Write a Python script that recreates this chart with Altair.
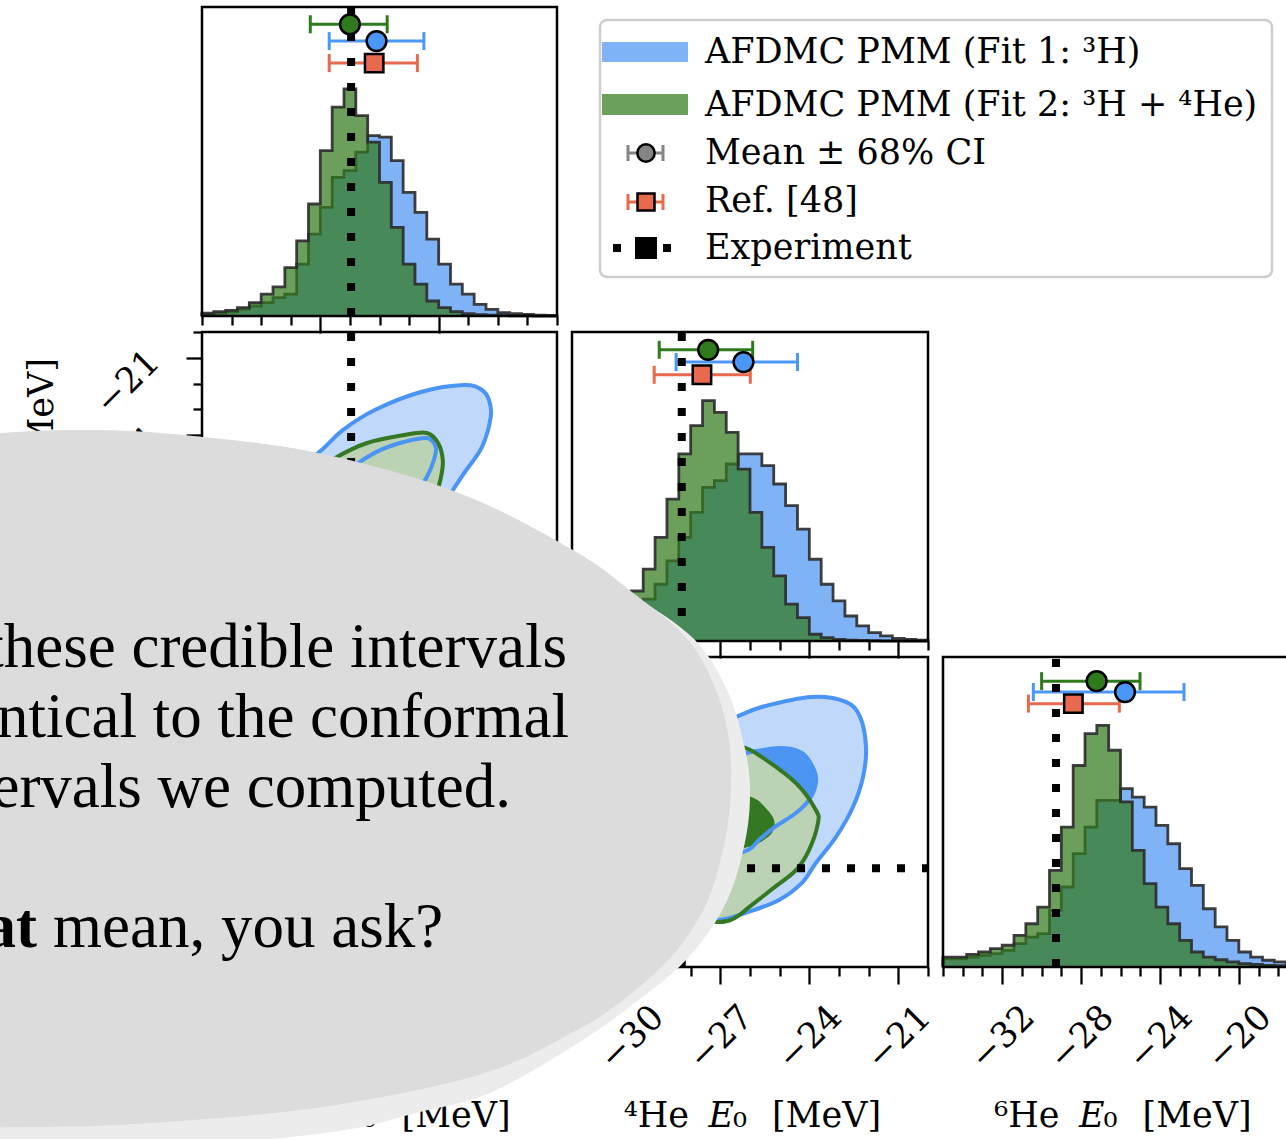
import altair as alt
import numpy as np
import pandas as pd

W, H = 1286, 1139
SERIF = "DejaVu Serif"
SLIDE_FONT = "Liberation Serif"

# ---------------------------------------------------------------- parameters
PARAMS = ["³H", "⁴He", "⁶He"]
DOMAIN = [(-11.0, -5.0), (-32.0, -20.0), (-35.0, -17.0)]
MAJOR_TICKS = [[-9, -7], [-30, -27, -24, -21], [-32, -28, -24, -20]]
MINOR_STEP = [0.5, 1.0, 1.0]
EXPERIMENT = [-8.48, -28.30, -29.27]

# ------------------------------------------------- 1D marginals (normalised)
BIN_START = [-11.0, -32.0, -35.0]
BIN_WIDTH = [0.2, 0.4, 0.6]
FIT1_HIST = [
    [.007, .012, .018, .029, .044, .059, .081, .096, .228, .360, .478, .610, .640, .721, .794,
     .787, .684, .544, .456, .338, .228, .140, .096, .051, .029, .015, .010, .007, .004, .003],
    [.004, .007, .011, .017, .035, .111, .174, .236, .333, .431, .535, .639, .667, .736, .778,
     .778, .729, .653, .563, .465, .340, .236, .167, .104, .063, .035, .021, .011, .007, .004],
    [.034, .034, .041, .048, .055, .069, .097, .124, .138, .234, .331, .469, .579, .690, .690,
     .738, .703, .662, .586, .510, .407, .338, .241, .166, .110, .062, .041, .028, .021, .014],
]
FIT2_HIST = [
    [.012, .019, .025, .037, .059, .096, .128, .213, .331, .493, .728, .919, 1.00, .882, .765,
     .588, .390, .228, .140, .066, .037, .019, .010, .006, .004, .003, .001, .001, .000, .000],
    [.007, .011, .021, .042, .111, .208, .299, .431, .590, .778, .896, 1.00, .951, .868, .715,
     .535, .389, .271, .153, .097, .028, .014, .007, .004, .003, .001, .000, .000, .000, .000],
    [.041, .041, .052, .062, .076, .090, .131, .179, .248, .400, .579, .834, .966, 1.00, .897,
     .683, .483, .345, .248, .179, .110, .062, .041, .030, .021, .014, .011, .007, .006, .004],
]
HIST_TOP = [1.360, 1.285, 1.283]

# ------------------------------------------ mean +/- 68% CI and reference values
SUMMARY = {
    "fit2": {"mean": [-8.50, -27.41, -27.21], "lo": [-9.17, -29.06, -30.00],
             "hi": [-7.87, -25.91, -25.01], "level": [1.284, 1.211, 1.183]},
    "fit1": {"mean": [-8.05, -26.22, -25.77], "lo": [-8.85, -28.49, -30.42],
             "hi": [-7.25, -24.40, -22.78], "level": [1.210, 1.160, 1.138]},
    "ref": {"mean": [-8.09, -27.62, -28.39], "lo": [-8.85, -29.23, -30.67],
            "hi": [-7.36, -25.99, -26.06], "level": [1.113, 1.107, 1.090]},
}

# ------------------------------------------ 2D credible regions (68% / 95%)
CONTOURS = {
    (1, 0): {
        "fit1_95": [(-9.04, -24.70), (-8.62, -23.81), (-8.08, -23.03), (-7.30, -22.33), (-6.57, -22.06),
                    (-6.27, -22.25), (-6.15, -22.64), (-6.12, -23.30), (-6.27, -24.47), (-6.57, -25.48),
                    (-6.78, -26.21), (-7.32, -28.08), (-7.99, -30.02), (-8.84, -31.18), (-9.68, -31.57),
                    (-10.36, -30.79), (-10.53, -28.85), (-10.19, -26.91), (-9.60, -25.55)],
        "fit1_68": [(-8.36, -25.09), (-7.98, -24.58), (-7.59, -24.27), (-7.20, -24.12), (-7.05, -24.47),
                    (-7.08, -24.97), (-7.20, -25.63), (-7.35, -26.14), (-7.65, -27.30), (-8.16, -28.46),
                    (-8.67, -29.05), (-9.09, -28.85), (-9.26, -27.69), (-9.01, -26.52), (-8.67, -25.67)],
        "fit2_95": [(-8.75, -24.89), (-8.21, -24.31), (-7.59, -24.00), (-7.20, -23.92), (-7.01, -24.31),
                    (-6.93, -24.97), (-6.96, -25.63), (-7.05, -26.33), (-7.32, -27.69), (-7.82, -29.24),
                    (-8.50, -30.21), (-9.18, -30.41), (-9.60, -29.63), (-9.68, -28.08), (-9.43, -26.52),
                    (-9.09, -25.44)],
        "fit2_68": [(-8.84, -27.30), (-8.33, -26.72), (-7.91, -26.72), (-7.82, -27.49), (-8.08, -28.46),
                    (-8.58, -29.05), (-8.92, -28.66)],
    },
    (2, 1): {
        "fit1_95": [(-26.57, -20.54), (-25.60, -19.90), (-23.91, -19.32), (-22.77, -19.61), (-22.29, -20.48),
                    (-22.09, -22.23), (-22.19, -23.97), (-22.53, -25.71), (-23.10, -27.45), (-23.78, -28.96),
                    (-24.25, -30.12), (-25.02, -31.11), (-26.07, -31.81), (-27.08, -32.27), (-28.36, -31.98),
                    (-29.71, -31.11), (-30.72, -29.37), (-31.06, -27.04), (-30.55, -24.72), (-29.37, -22.69),
                    (-28.02, -21.24)],
        "fit1_68": [(-26.10, -22.57), (-25.02, -22.28), (-24.25, -22.57), (-23.84, -23.56), (-23.78, -24.32),
                    (-24.01, -25.30), (-24.45, -26.06), (-25.16, -26.87), (-25.70, -27.62), (-26.07, -28.21),
                    (-27.01, -28.50), (-28.02, -27.62), (-28.53, -25.88), (-28.19, -24.14), (-27.35, -22.98)],
        "fit2_95": [(-26.24, -22.23), (-25.60, -22.81), (-24.45, -24.32), (-23.78, -25.88), (-23.71, -26.64),
                    (-24.01, -28.21), (-24.45, -29.37), (-25.16, -30.35), (-26.03, -31.52), (-26.51, -32.15),
                    (-27.08, -32.39), (-28.36, -31.98), (-29.71, -30.82), (-30.55, -28.79), (-30.55, -26.17),
                    (-29.71, -24.14), (-28.36, -22.69), (-27.18, -22.11)],
        "fit2_68": [(-25.87, -25.19), (-25.50, -25.71), (-25.19, -26.46), (-25.26, -27.22), (-25.70, -27.80),
                    (-26.07, -28.03), (-26.84, -28.21), (-27.52, -27.33), (-27.69, -25.88), (-27.18, -25.01),
                    (-26.51, -24.90)],
    },
}

# ------------------------------------------------------------------- styling
COL_PX = [(202, 557), (572, 928), (943, 1298)]   # left, right of each column
ROW_PX = [(7, 316), (332, 641), (657, 967)]      # top, bottom of each row

BLUE_HIST, GREEN_HIST, EDGE = "#7fb3f5", "#33781d", "#2b2b2b"
BLUE_LINE, BLUE_LIGHT, BLUE_MID = "#4a94f5", "#c0d8fa", "#4d95f2"
GREEN_LINE, GREEN_LIGHT = "#347823", "#bbd2b4"
MARK_COLOR = {"fit1": "#4a97f7", "fit2": "#2f7a1c", "ref": "#e8694d"}
MARK_SHAPE = {"fit1": "circle", "fit2": "circle", "ref": "square"}
MARK_SIZE = {"fit1": 390, "fit2": 390, "ref": 340}
TICK_FONT = 35


def x_scale(c):
    return alt.Scale(domain=list(DOMAIN[c]), range=list(COL_PX[c]), nice=False, zero=False)


def y_scale(r):
    top, bottom = ROW_PX[r]
    return alt.Scale(domain=list(DOMAIN[r]), range=[bottom, top], nice=False, zero=False)


def h_scale(d):
    top, bottom = ROW_PX[d]
    return alt.Scale(domain=[0, HIST_TOP[d]], range=[bottom, top], nice=False, zero=False)


def minor_ticks(p):
    vals = np.arange(DOMAIN[p][0], DOMAIN[p][1] + 1e-9, MINOR_STEP[p])
    return [float(v) for v in vals if all(abs(v - m) > 1e-9 for m in MAJOR_TICKS[p])]


def x_axis(c, r, major, labels=False):
    base = dict(orient="bottom", offset=ROW_PX[r][1] - H, domain=False, grid=False, title=None,
                tickColor="black", tickWidth=2.3, zindex=0)
    if not major:
        return alt.Axis(values=minor_ticks(c), tickSize=9, labels=False, **base)
    return alt.Axis(values=MAJOR_TICKS[c], tickSize=17, labels=labels, format="d",
                    labelAngle=315, labelAlign="center", labelBaseline="middle", labelPadding=53,
                    labelFont=SERIF, labelFontSize=TICK_FONT, labelColor="black",
                    labelFlush=False, labelOverlap=False, **base)


def y_axis(r, c, major, labels=False):
    base = dict(orient="left", offset=-COL_PX[c][0], domain=False, grid=False, title=None,
                tickColor="black", tickWidth=2.3, zindex=0)
    if not major:
        return alt.Axis(values=minor_ticks(r), tickSize=9, labels=False, **base)
    return alt.Axis(values=MAJOR_TICKS[r], tickSize=16, labels=labels, format="d",
                    labelAngle=315, labelAlign="center", labelBaseline="middle", labelPadding=59,
                    labelOffset=24, labelFont=SERIF, labelFontSize=TICK_FONT, labelColor="black",
                    labelFlush=False, labelOverlap=False, **base)


def frame(xs, ys, xlo, xhi, ylo, yhi, major_axes, minor_axes):
    df = pd.DataFrame({"x0": [xlo], "x1": [xhi], "y0": [ylo], "y1": [yhi]})
    minor = alt.Chart(df).mark_rect(opacity=0).encode(
        x=alt.X("x0:Q", scale=xs, axis=minor_axes[0]), x2="x1:Q",
        y=alt.Y("y0:Q", scale=ys, axis=minor_axes[1]), y2="y1:Q")
    box = alt.Chart(df).mark_rect(fill="transparent", stroke="black", strokeWidth=2.5).encode(
        x=alt.X("x0:Q", scale=xs, axis=major_axes[0]), x2="x1:Q",
        y=alt.Y("y0:Q", scale=ys, axis=major_axes[1]), y2="y1:Q")
    return [minor, box]


def dotted(df, enc):
    return alt.Chart(df).mark_rule(color="black", strokeWidth=8, strokeDash=[8, 17],
                                   strokeCap="butt").encode(**enc)


def hist_table(d, heights):
    n = len(heights)
    edges = [BIN_START[d] + BIN_WIDTH[d] * k for k in range(n + 1)]
    return pd.DataFrame({"e": [edges[0]] + edges[:n] + [edges[n]],
                         "h": [0.0] + list(heights) + [0.0],
                         "i": list(range(n + 2))})


def diag_panel(d):
    xs, hs = x_scale(d), h_scale(d)
    out = []
    for heights, fill, op in ((FIT1_HIST[d], BLUE_HIST, 1.0), (FIT2_HIST[d], GREEN_HIST, 0.72)):
        df = hist_table(d, heights)
        enc = dict(x=alt.X("e:Q", scale=xs, axis=None), y=alt.Y("h:Q", scale=hs, axis=None),
                   order=alt.Order("i:Q"))
        # filled step outline (one closed path per histogram)
        out.append(alt.Chart(df).mark_line(interpolate="step-after", fill=fill, fillOpacity=op,
                                           strokeOpacity=0).encode(**enc))
        out.append(alt.Chart(df).mark_line(interpolate="step-after", color=EDGE, strokeWidth=2.8,
                                           opacity=0.9).encode(**enc))
    rows = []
    for key in ("fit2", "fit1", "ref"):
        s = SUMMARY[key]
        rows.append(dict(lo=s["lo"][d], hi=s["hi"][d], mean=s["mean"][d], lev=s["level"][d],
                         col=MARK_COLOR[key], shp=MARK_SHAPE[key], sz=MARK_SIZE[key]))
    eb = pd.DataFrame(rows)
    ycode = alt.Y("lev:Q", scale=hs, axis=None)
    colr = alt.Color("col:N", scale=None)
    out.append(alt.Chart(eb).mark_rule(strokeWidth=3).encode(
        x=alt.X("lo:Q", scale=xs, axis=None), x2="hi:Q", y=ycode, color=colr))
    for end in ("lo", "hi"):
        out.append(alt.Chart(eb).mark_tick(orient="vertical", thickness=3, size=18, opacity=1).encode(
            x=alt.X(f"{end}:Q", scale=xs, axis=None), y=ycode, color=colr))
    ex = pd.DataFrame({"x": [EXPERIMENT[d]], "y0": [0.0], "y1": [HIST_TOP[d]]})
    out.append(dotted(ex, dict(x=alt.X("x:Q", scale=xs, axis=None),
                               y=alt.Y("y0:Q", scale=hs, axis=None), y2="y1:Q")))
    out.append(alt.Chart(eb).mark_point(filled=True, opacity=1, stroke="black", strokeWidth=2.5).encode(
        x=alt.X("mean:Q", scale=xs, axis=None), y=ycode, color=colr,
        shape=alt.Shape("shp:N", scale=None), size=alt.Size("sz:Q", scale=None)))
    out += frame(xs, hs, DOMAIN[d][0], DOMAIN[d][1], 0.0, HIST_TOP[d],
                 (x_axis(d, d, True, labels=(d == 2)), None), (x_axis(d, d, False), None))
    return out


def region(pts, xs, ys, **mark):
    df = pd.DataFrame({"x": [p[0] for p in pts], "y": [p[1] for p in pts], "i": list(range(len(pts)))})
    return alt.Chart(df).mark_line(interpolate="cardinal-closed", **mark).encode(
        x=alt.X("x:Q", scale=xs, axis=None), y=alt.Y("y:Q", scale=ys, axis=None), order=alt.Order("i:Q"))


def pair_panel(r, c):
    xs, ys = x_scale(c), y_scale(r)
    out = []
    cont = CONTOURS.get((r, c))
    if cont:
        out.append(region(cont["fit1_95"], xs, ys, fill=BLUE_LIGHT, strokeOpacity=0))
        out.append(region(cont["fit1_68"], xs, ys, fill=BLUE_MID, strokeOpacity=0))
        out.append(region(cont["fit2_95"], xs, ys, fill=GREEN_LIGHT, strokeOpacity=0))
        out.append(region(cont["fit2_68"], xs, ys, fill=GREEN_LINE, strokeOpacity=0))
        out.append(region(cont["fit1_95"], xs, ys, color=BLUE_LINE, strokeWidth=4))
        out.append(region(cont["fit1_68"], xs, ys, color=BLUE_LINE, strokeWidth=4))
        out.append(region(cont["fit2_95"], xs, ys, color=GREEN_LINE, strokeWidth=4))
    vx = pd.DataFrame({"x": [EXPERIMENT[c]], "y0": [DOMAIN[r][0]], "y1": [DOMAIN[r][1]]})
    out.append(dotted(vx, dict(x=alt.X("x:Q", scale=xs, axis=None),
                               y=alt.Y("y0:Q", scale=ys, axis=None), y2="y1:Q")))
    hy = pd.DataFrame({"y": [EXPERIMENT[r]], "x0": [DOMAIN[c][0]], "x1": [DOMAIN[c][1]]})
    out.append(dotted(hy, dict(y=alt.Y("y:Q", scale=ys, axis=None),
                               x=alt.X("x0:Q", scale=xs, axis=None), x2="x1:Q")))
    out += frame(xs, ys, DOMAIN[c][0], DOMAIN[c][1], DOMAIN[r][0], DOMAIN[r][1],
                 (x_axis(c, r, True, labels=(r == 2)), y_axis(r, c, True, labels=(c == 0))),
                 (x_axis(c, r, False), y_axis(r, c, False)))
    return out


def text(s, x, y, size, font=SERIF, align="left", baseline="alphabetic", angle=0, **kw):
    return alt.Chart(pd.DataFrame({"t": [s]})).mark_text(
        font=font, fontSize=size, align=align, baseline=baseline, angle=angle, color="black", **kw
    ).encode(x=alt.value(x), y=alt.value(y), text="t:N")


layers = []
for d in range(3):
    layers += diag_panel(d)
for r, c in ((1, 0), (2, 0), (2, 1)):
    layers += pair_panel(r, c)

# axis titles: "<nucleus> E_0 [MeV]" with an italic E
for c in range(3):
    cx = sum(COL_PX[c]) / 2
    layers.append(text(PARAMS[c], cx - 61, 1127, 35, align="right"))
    layers.append(text("E", cx - 16, 1127, 35, align="right", fontStyle="italic"))
    layers.append(text("₀", cx - 17, 1127, 35, align="left"))
    layers.append(text("[MeV]", cx + 22, 1127, 35, align="left"))
for r in (1, 2):
    layers.append(text(f"{PARAMS[r]} E₀ [MeV]", 53, ROW_PX[r][0] + 26, 35, align="right", angle=270))


# legend
def box(x0, x1, y0, y1, **mark):
    return alt.Chart(pd.DataFrame({"k": [0]})).mark_rect(**mark).encode(
        x=alt.value(x0), x2=alt.value(x1), y=alt.value(y0), y2=alt.value(y1))


def hbar(x0, x1, y, **mark):
    return alt.Chart(pd.DataFrame({"k": [0]})).mark_rule(**mark).encode(
        x=alt.value(x0), x2=alt.value(x1), y=alt.value(y))


def glyph(x, y, shape, size, fill, **mark):
    return alt.Chart(pd.DataFrame({"k": [0]})).mark_point(
        shape=shape, size=size, filled=True, color=fill, opacity=1, **mark
    ).encode(x=alt.value(x), y=alt.value(y))


layers.append(box(600, 1272, 20, 277, fill="white", stroke="#cdcdcd", strokeWidth=2.5, cornerRadius=7))
layers.append(box(602, 688, 42, 62, color=BLUE_HIST))
layers.append(box(602, 688, 94, 115, color=GREEN_HIST, opacity=0.72))
for y, col, shp, sz in ((153, "#858585", "circle", 300), (202, MARK_COLOR["ref"], "square", 290)):
    layers.append(hbar(628, 663, y, color=col, strokeWidth=3))
    for xx in (628, 663):
        layers.append(alt.Chart(pd.DataFrame({"k": [0]})).mark_rule(color=col, strokeWidth=3).encode(
            x=alt.value(xx), y=alt.value(y - 8), y2=alt.value(y + 8)))
    layers.append(glyph(646, y, shp, sz, col, stroke="black", strokeWidth=2.5))
layers.append(hbar(613, 681, 248, color="black", strokeWidth=8, strokeDash=[8, 17], strokeCap="butt"))
layers.append(glyph(646, 248, "square", 484, "black"))
for s, y in (("AFDMC PMM (Fit 1: ³H)", 63), ("AFDMC PMM (Fit 2: ³H + ⁴He)", 116),
             ("Mean ± 68% CI", 164), ("Ref.  [48]", 212), ("Experiment", 259)):
    layers.append(text(s, 705, y, 35))


# speech bubble laid over the figure
def smooth_path(points):
    P = np.asarray(points, float)
    n = len(P)
    parts = [f"M {P[0][0]:.1f} {P[0][1]:.1f}"]
    for i in range(n):
        p0, p1, p2, p3 = P[i - 1], P[i], P[(i + 1) % n], P[(i + 2) % n]
        c1 = p1 + (p2 - p0) / 6
        c2 = p2 - (p3 - p1) / 6
        parts.append(f"C {c1[0]:.1f} {c1[1]:.1f} {c2[0]:.1f} {c2[1]:.1f} {p2[0]:.1f} {p2[1]:.1f}")
    parts.append("Z")
    return " ".join(parts)


BUBBLE = [(-300, 470), (-150, 446), (0, 433), (92, 430), (183, 435), (318, 453), (459, 493),
          (573, 550), (632, 592), (688, 640), (716, 690), (729, 740), (731, 785), (726, 835),
          (708, 900), (673, 955), (623, 1000), (577, 1030), (485, 1073), (336, 1105), (194, 1120),
          (40, 1127), (-150, 1120), (-350, 1050), (-450, 785)]
BUBBLE_RIM = [(-300, 478), (-150, 452), (0, 440), (92, 437), (183, 442), (318, 460), (459, 500),
              (573, 556), (635, 596), (695, 640), (727, 690), (743, 740), (750, 787), (745, 842),
              (725, 905), (686, 960), (632, 1005), (575, 1045), (490, 1093), (420, 1112), (339, 1131),
              (194, 1146), (40, 1155), (-150, 1152), (-350, 1078), (-450, 790)]

for outline, shade in ((BUBBLE_RIM, "#ececec"), (BUBBLE, "#dcdcdc")):
    layers.append(glyph(0, 0, smooth_path(outline), 4, shade, strokeWidth=0))

for s, xr, yb in (("these credible intervals", 567, 667), ("identical to the conformal", 569, 737),
                  ("intervals we computed.", 511, 807)):
    layers.append(text(s, xr, yb, 63, font=SLIDE_FONT, align="right"))
layers.append(text("that", 37, 947, 63, font=SLIDE_FONT, align="right", fontWeight="bold"))
layers.append(text("mean, you ask?", 53, 947, 63, font=SLIDE_FONT, align="left"))

chart = (
    alt.layer(*layers)
    .resolve_scale(x="independent", y="independent")
    .properties(width=W, height=H, autosize=alt.AutoSizeParams(type="none"), padding=0)
    .configure_view(strokeWidth=0)
)

chart.save("out.html", embed_options={"renderer": "svg", "actions": False})
